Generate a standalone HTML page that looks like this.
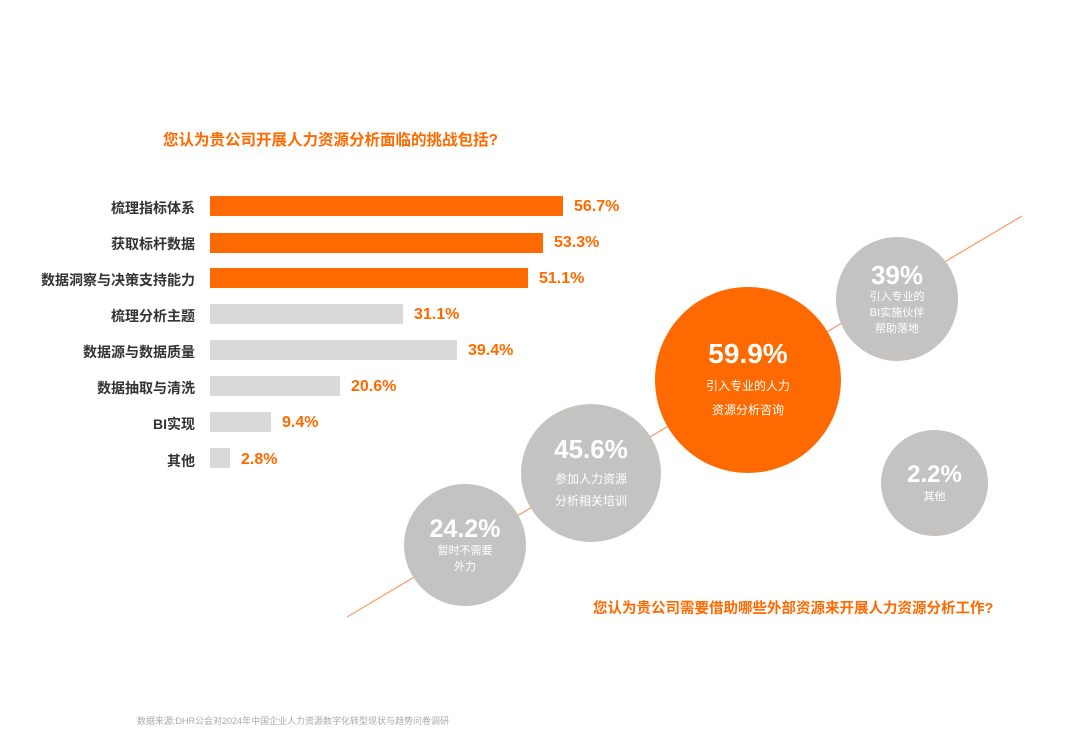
<!DOCTYPE html>
<html><head><meta charset="utf-8"><style>
body{margin:0;background:#fff;width:1080px;height:737px;position:relative;overflow:hidden;font-family:"Liberation Sans","Noto Sans CJK SC",sans-serif}
.t{position:absolute;white-space:nowrap}
.lab{position:absolute;right:885px;font-size:14px;font-weight:bold;color:#333;text-align:right;white-space:nowrap}
.bar{position:absolute;left:210px;height:20px}
.val{position:absolute;font-size:16px;font-weight:bold;color:#ff6a00;white-space:nowrap}
.c{position:absolute;border-radius:50%;background:#c4c3c2;color:#fff;text-align:center;display:flex;flex-direction:column;justify-content:center;align-items:center}
</style></head><body>
<div class="t" style="left:163px;top:128px;font-size:15.5px;font-weight:bold;color:#ff6a00">您认为贵公司开展人力资源分析面临的挑战包括?</div>

<div class="lab" style="top:198px">梳理指标体系</div><div class="bar" style="top:196px;width:353px;background:#ff6a00"></div><div class="val" style="left:574px;top:198px">56.7%</div>
<div class="lab" style="top:234px">获取标杆数据</div><div class="bar" style="top:233px;width:333px;background:#ff6a00"></div><div class="val" style="left:554px;top:234px">53.3%</div>
<div class="lab" style="top:270px">数据洞察与决策支持能力</div><div class="bar" style="top:268px;width:318px;background:#ff6a00"></div><div class="val" style="left:539px;top:270px">51.1%</div>
<div class="lab" style="top:306px">梳理分析主题</div><div class="bar" style="top:304px;width:193px;background:#d9d9d9"></div><div class="val" style="left:414px;top:306px">31.1%</div>
<div class="lab" style="top:342px">数据源与数据质量</div><div class="bar" style="top:340px;width:247px;background:#d9d9d9"></div><div class="val" style="left:468px;top:342px">39.4%</div>
<div class="lab" style="top:378px">数据抽取与清洗</div><div class="bar" style="top:376px;width:130px;background:#d9d9d9"></div><div class="val" style="left:351px;top:378px">20.6%</div>
<div class="lab" style="top:414px">BI实现</div><div class="bar" style="top:412px;width:61px;background:#d9d9d9"></div><div class="val" style="left:282px;top:414px">9.4%</div>
<div class="lab" style="top:451px">其他</div><div class="bar" style="top:448px;width:20px;background:#d9d9d9"></div><div class="val" style="left:241px;top:451px">2.8%</div>

<svg style="position:absolute;left:0;top:0" width="1080" height="737"><line x1="347" y1="617" x2="1022" y2="216" stroke="#f4a070" stroke-width="1.3"/></svg>

<div class="c" style="left:655px;top:287px;width:186px;height:186px;background:#ff6a00"><div style="font-size:28px;font-weight:bold;line-height:32px">59.9%</div><div style="font-size:12px;line-height:24px;margin-top:4px">引入专业的人力<br>资源分析咨询</div></div>
<div class="c" style="left:836px;top:237px;width:122px;height:124px"><div style="font-size:26px;font-weight:bold;line-height:28px">39%</div><div style="font-size:11px;line-height:16px">引入专业的<br>BI实施伙伴<br>帮助落地</div></div>
<div class="c" style="left:521px;top:404px;width:140px;height:138px"><div style="font-size:26px;font-weight:bold;line-height:30px">45.6%</div><div style="font-size:12px;line-height:22px;margin-top:4px">参加人力资源<br>分析相关培训</div></div>
<div class="c" style="left:404px;top:484px;width:122px;height:122px"><div style="font-size:25px;font-weight:bold;line-height:28px">24.2%</div><div style="font-size:11px;line-height:16px">暂时不需要<br>外力</div></div>
<div class="c" style="left:881px;top:430px;width:107px;height:106px"><div style="font-size:24px;font-weight:bold;line-height:28px">2.2%</div><div style="font-size:11px;line-height:16px">其他</div></div>

<div class="t" style="left:593px;top:597px;font-size:14.5px;font-weight:bold;color:#ff6a00">您认为贵公司需要借助哪些外部资源来开展人力资源分析工作?</div>
<div class="t" style="left:137px;top:714px;font-size:9px;color:#aaa">数据来源:DHR公会对2024年中国企业人力资源数字化转型现状与趋势问卷调研</div>
</body></html>
